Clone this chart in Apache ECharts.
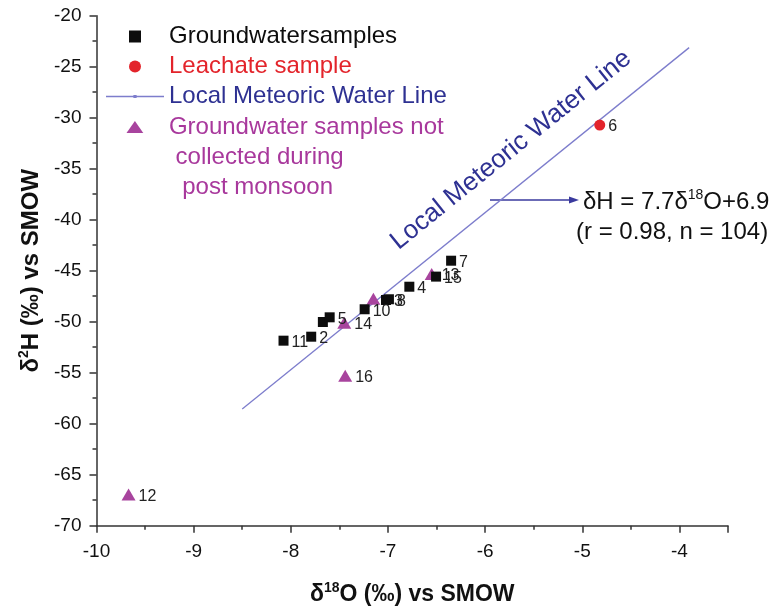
<!DOCTYPE html>
<html>
<head>
<meta charset="utf-8">
<script src="https://cdn.jsdelivr.net/npm/echarts@6/dist/echarts.min.js"></script>
<style>
  html, body { margin: 0; padding: 0; background: #fff; }
  #chart { width: 778px; height: 612px; }
</style>
</head>
<body>
<div id="chart"></div>
<script>
// Groundwater samples (black squares): sample id, δ18O, δ2H
const gwIds = ['1', '2', '3', '4', '5', '7', '8', '10', '11', '15'];
const gwO18 = [-7.67, -7.79, -7.02, -6.78, -7.60, -6.35, -6.99, -7.24, -8.075, -6.505];
const gwH2  = [-50.03, -51.47, -47.87, -46.57, -49.57, -44.02, -47.8, -48.78, -51.86, -45.58];

// Leachate sample (red circle)
const leachIds = ['6'];
const leachO18 = [-4.82];
const leachH2  = [-30.72];

// Groundwater samples not collected during post monsoon (triangles)
const nmIds = ['9', '12', '13', '14', '16'];
const nmO18 = [-7.15, -9.67, -6.55, -7.45, -7.44];
const nmH2  = [-47.75, -66.95, -45.32, -50.1, -55.3];

// Labels tucked under neighbouring markers
const hiddenLabels = ['1', '9'];

// Local Meteoric Water Line: δH = 7.7 δ18O + 6.9
const lmwlSlope = 7.7;
const lmwlIntercept = 6.9;
const lmwlO18 = [-8.5, -3.9];

// Axis ticks
const xTicks = [-10, -9, -8, -7, -6, -5, -4];
const yTicks = [-70, -65, -60, -55, -50, -45, -40, -35, -30, -25, -20];

// Series names
const NAME_GW = 'Groundwatersamples';
const NAME_LEACH = 'Leachate sample';
const NAME_LMWL = 'Local Meteoric Water Line';
const NAME_NM = 'Groundwater samples not\n collected during\n  post monsoon';

const FONT = '"Liberation Sans", Arial, Helvetica, sans-serif';
const C_GW = '#0d0d0d', C_LEACH = '#e3242b', C_NM = '#a8449e';
const C_LINE = '#7d7dcc', C_BLUE = '#2e3192';

function points(ids, xs, ys) {
  return ids.map((id, i) => ({
    name: id,
    value: [xs[i], ys[i]],
    label: { show: hiddenLabels.indexOf(id) < 0 }
  }));
}

const pointLabel = {
  show: true,
  position: 'right',
  distance: 3,
  offset: [0, 2],
  formatter: p => p.name,
  color: '#222',
  fontFamily: FONT,
  fontSize: 16
};

function axisTitle(size) {
  return {
    rich: {
      d: { fontFamily: FONT, fontSize: size, fontWeight: 'bold', color: '#111', lineHeight: 28 },
      sup: { fontFamily: FONT, fontSize: 14, fontWeight: 'bold', color: '#111', verticalAlign: 'top', lineHeight: 14 }
    }
  };
}

const axisLineStyle = { color: '#333', width: 1.5 };

const chart = echarts.init(document.getElementById('chart'), null, { renderer: 'canvas' });

const legendBase = {
  orient: 'vertical',
  itemWidth: 58,
  itemHeight: 12,
  itemGap: 0,
  align: 'left',
  textStyle: { fontFamily: FONT, fontSize: 24, lineHeight: 30 }
};

chart.setOption({
  animation: false,
  backgroundColor: '#fff',
  grid: { left: 96.5, right: 50, top: 15.7, bottom: 86.3, containLabel: false },
  xAxis: {
    type: 'value',
    min: xTicks[0],
    max: -3.5,
    interval: 1,
    name: '{d|δ}{sup|18}{d|O (‰) vs SMOW}',
    nameLocation: 'middle',
    nameGap: 55,
    nameTextStyle: axisTitle(23),
    axisLine: { show: true, onZero: false, lineStyle: axisLineStyle },
    axisTick: { show: true, inside: false, length: 7, lineStyle: axisLineStyle },
    minorTick: { show: true, splitNumber: 2, length: 4, lineStyle: axisLineStyle },
    splitLine: { show: false },
    axisLabel: {
      margin: 17,
      color: '#111',
      fontFamily: FONT,
      fontSize: 19,
      formatter: v => (xTicks.indexOf(v) >= 0 ? String(v) : '')
    }
  },
  yAxis: {
    type: 'value',
    min: yTicks[0],
    max: yTicks[yTicks.length - 1],
    interval: 5,
    name: '{d|δ}{sup|2}{d|H (‰) vs SMOW}',
    nameLocation: 'middle',
    nameGap: 49,
    nameTextStyle: axisTitle(24),
    axisLine: { show: true, onZero: false, lineStyle: axisLineStyle },
    axisTick: { show: true, inside: false, length: 7, lineStyle: axisLineStyle },
    minorTick: { show: true, splitNumber: 2, length: 4, lineStyle: axisLineStyle },
    splitLine: { show: false },
    axisLabel: {
      margin: 15,
      color: '#111',
      fontFamily: FONT,
      fontSize: 19,
      formatter: v => (yTicks.indexOf(v) >= 0 ? String(v) : '')
    }
  },
  legend: [
    Object.assign({}, legendBase, {
      left: 101,
      top: 16.5,
      data: [
        { name: NAME_GW, icon: 'path://M0,0H10V10H0Z', textStyle: { color: C_GW } },
        { name: NAME_LEACH, icon: 'circle', textStyle: { color: C_LEACH } },
        { name: NAME_LMWL, icon: 'path://M0,5.4H54V6.6H0Z M25.5,4.5H28.5V7.5H25.5Z', textStyle: { color: C_BLUE } }
      ]
    }),
    // three-line entry: two blank lines on top keep the first line level with the icon
    Object.assign({}, legendBase, {
      left: 121.5,
      top: 47,
      formatter: name => '\n\n' + name,
      data: [
        { name: NAME_NM, icon: 'path://M7,0L14,10L0,10Z', textStyle: { color: '#a8389c' } }
      ]
    })
  ],
  series: [
    {
      name: NAME_LMWL,
      type: 'line',
      symbol: 'none',
      silent: true,
      lineStyle: { color: C_LINE, width: 1.3 },
      itemStyle: { color: C_LINE },
      data: lmwlO18.map(x => [x, lmwlSlope * x + lmwlIntercept]),
      z: 1
    },
    {
      name: NAME_GW,
      type: 'scatter',
      symbol: 'rect',
      symbolSize: 10,
      itemStyle: { color: C_GW, opacity: 1 },
      label: pointLabel,
      data: points(gwIds, gwO18, gwH2),
      z: 3
    },
    {
      name: NAME_LEACH,
      type: 'scatter',
      symbol: 'circle',
      symbolSize: 11,
      itemStyle: { color: C_LEACH, opacity: 1 },
      label: pointLabel,
      data: points(leachIds, leachO18, leachH2),
      z: 3
    },
    {
      name: NAME_NM,
      type: 'scatter',
      symbol: 'triangle',
      symbolSize: [14, 12],
      itemStyle: { color: C_NM, opacity: 1 },
      label: pointLabel,
      data: points(nmIds, nmO18, nmH2),
      z: 2
    }
  ],
  graphic: [
    {
      type: 'text',
      x: 511,
      y: 150,
      rotation: Math.atan2(361, 447),
      style: {
        text: 'Local Meteoric Water Line',
        fill: C_BLUE,
        font: '26px ' + FONT,
        align: 'center',
        verticalAlign: 'middle'
      }
    },
    {
      type: 'line',
      shape: { x1: 490, y1: 200, x2: 572, y2: 200 },
      style: { stroke: '#3a3a9e', lineWidth: 1.3 }
    },
    {
      type: 'polygon',
      shape: { points: [[579, 200], [569, 196.5], [569, 203.5]] },
      style: { fill: '#3a3a9e' }
    },
    {
      type: 'text',
      x: 583,
      y: 202,
      style: {
        text: '{m|δH = 7.7δ}{s|18}{m|O+6.9}',
        verticalAlign: 'middle',
        rich: {
          m: { font: '24px ' + FONT, fill: '#111', lineHeight: 28 },
          s: { font: '14px ' + FONT, fill: '#111', verticalAlign: 'top', lineHeight: 14 }
        }
      }
    },
    {
      type: 'text',
      x: 576,
      y: 232,
      style: {
        text: '(r = 0.98, n = 104)',
        fill: '#111',
        font: '24px ' + FONT,
        verticalAlign: 'middle'
      }
    }
  ]
});
</script>
</body>
</html>
